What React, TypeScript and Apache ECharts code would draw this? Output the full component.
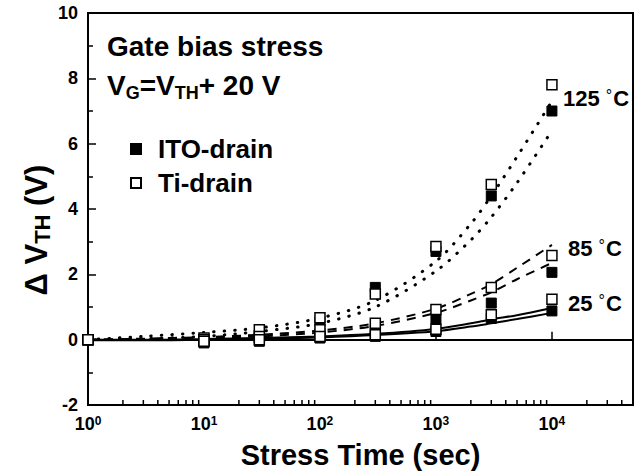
import { useEffect, useRef } from "react";
import * as echarts from "echarts";

// Measured threshold-voltage shift (V) versus stress time (s)
const STRESS_TIME = [1, 10, 30, 100, 300, 1000, 3000, 10000];
const ITO_125C = [0, 0.0, 0.15, 0.55, 1.6, 2.7, 4.4, 7.0];
const TI_125C = [0, 0.05, 0.3, 0.67, 1.4, 2.85, 4.75, 7.8];
const ITO_85C = [0, -0.05, 0.05, 0.2, 0.3, 0.63, 1.12, 2.06];
const TI_85C = [0, 0.0, 0.1, 0.3, 0.5, 0.92, 1.6, 2.58];
const ITO_25C = [0, -0.1, -0.05, 0.05, 0.1, 0.25, 0.65, 0.88];
const TI_25C = [0, -0.05, 0.0, 0.1, 0.15, 0.32, 0.76, 1.24];

// Fitted trend curves
const FIT_TIME = [1, 3, 10, 30, 100, 300, 1000, 2000, 3000, 5000, 10000];
const FIT_TI_125C = [0, 0.1, 0.22, 0.36, 0.66, 1.2, 2.4, 3.55, 4.4, 5.6, 7.3];
const FIT_ITO_125C = [0, 0.03, 0.1, 0.25, 0.5, 1.0, 2.1, 3.05, 3.75, 4.8, 6.4];
const FIT_TI_85C = [0, 0.03, 0.08, 0.15, 0.28, 0.5, 0.95, 1.4, 1.7, 2.2, 2.9];
const FIT_ITO_85C = [0, 0.02, 0.05, 0.1, 0.22, 0.42, 0.82, 1.2, 1.45, 1.85, 2.35];
const FIT_TI_25C = [0, 0, 0.02, 0.05, 0.1, 0.18, 0.33, 0.5, 0.62, 0.75, 0.97];
const FIT_ITO_25C = [-0.02, -0.02, 0, 0.02, 0.07, 0.14, 0.26, 0.4, 0.5, 0.63, 0.82];

const TEMP_LABELS = ["125", "85", "25"];

const X_MIN = 1;
const X_MAX = 50000;
const Y_MIN = -2;
const Y_MAX = 10;

const FONT = '"Liberation Sans", Arial, Helvetica, sans-serif';

const pairs = (xs: number[], ys: number[]) => xs.map((x, i) => [x, ys[i]]);

// minor log ticks (2..9 x 10^k) along the time axis
const X_MINOR_TICKS: number[] = [];
for (let d = 1; d < X_MAX; d *= 10) {
  for (let m = 2; m <= 9; m++) {
    if (m * d < X_MAX) X_MINOR_TICKS.push(m * d);
  }
}

export default function App() {
  const ref = useRef<HTMLDivElement>(null);

  useEffect(() => {
    document.body.style.margin = "0";
    if (!ref.current) return;
    const chart = echarts.init(ref.current, undefined, { renderer: "svg" });

    const fitLine = (data: number[][], type: any, width: number, cap: string = "butt") => ({
      type: "line",
      data,
      showSymbol: false,
      symbol: "none",
      smooth: 0.3,
      silent: true,
      z: 1,
      lineStyle: { color: "#000", width, type, cap },
    });

    const tempLabel = (t: string, x: number, y: number) => ({
      type: "text",
      left: x,
      top: y,
      style: {
        text: `{n|${t} }{d|°}{n|C}`,
        rich: {
          n: { fontSize: 22, fontWeight: "bold", fontFamily: FONT, fill: "#000" },
          d: { fontSize: 16, fontFamily: FONT, fill: "#000", padding: [0, 1, 5, 0] },
        },
      },
    });

    chart.setOption({
      animation: false,
      backgroundColor: "#fff",
      textStyle: { fontFamily: FONT },
      grid: {
        left: 88,
        right: 11,
        top: 13,
        bottom: 65,
        show: true,
        borderColor: "#000",
        borderWidth: 2,
      },
      legend: {
        data: ["ITO-drain", "Ti-drain"],
        orient: "vertical",
        left: 130,
        top: 136,
        padding: 0,
        itemWidth: 10,
        itemHeight: 10,
        itemGap: 8,
        selectedMode: false,
        textStyle: {
          fontSize: 26,
          fontWeight: "bold",
          fontFamily: FONT,
          color: "#000",
          lineHeight: 26,
          padding: [0, 0, 0, 12],
        },
      },
      xAxis: {
        type: "log",
        logBase: 10,
        min: X_MIN,
        max: X_MAX,
        splitNumber: 5,
        name: "Stress Time (sec)",
        nameLocation: "middle",
        nameGap: 35,
        nameTextStyle: { fontSize: 29, fontWeight: "bold", fontFamily: FONT, color: "#000" },
        axisLine: { lineStyle: { color: "#000", width: 2 } },
        axisTick: { inside: true, length: 8, lineStyle: { color: "#000", width: 1.5 } },
        splitLine: { show: false },
        axisLabel: {
          margin: 10,
          formatter: (v: number) => {
            const e = Math.round(Math.log10(v));
            if (Math.abs(v - Math.pow(10, e)) > 1e-6 * v) return "";
            return `{b|10}{s|${e}}`;
          },
          rich: {
            b: { fontSize: 18, fontWeight: "bold", fontFamily: FONT, color: "#000" },
            s: { fontSize: 12, fontWeight: "bold", fontFamily: FONT, color: "#000", verticalAlign: "top", padding: [0, 0, 3, 0] },
          },
        },
      },
      yAxis: {
        type: "value",
        min: Y_MIN,
        max: Y_MAX,
        interval: 2,
        axisLine: { show: true, lineStyle: { color: "#000", width: 2 } },
        axisTick: { inside: true, length: 8, lineStyle: { color: "#000", width: 1.5 } },
        minorTick: { show: true, splitNumber: 2, length: 5, lineStyle: { color: "#000", width: 1.5 } },
        splitLine: { show: false },
        axisLabel: {
          margin: 10,
          fontSize: 18,
          fontWeight: "bold",
          fontFamily: FONT,
          color: "#000",
        },
      },
      graphic: [
        {
          type: "text",
          left: 107,
          top: 32,
          style: {
            text: "Gate bias stress",
            fontSize: 28,
            fontWeight: "bold",
            fontFamily: FONT,
            fill: "#000",
          },
        },
        {
          type: "text",
          left: 107,
          top: 71,
          style: {
            text: "{m|V}{s|G}{m|=V}{s|TH}{m|+ 20 V}",
            rich: {
              m: { fontSize: 28, fontWeight: "bold", fontFamily: FONT, fill: "#000" },
              s: { fontSize: 18, fontWeight: "bold", fontFamily: FONT, fill: "#000", padding: [15, 0, 0, 0] },
            },
          },
        },
        {
          type: "text",
          x: 36,
          y: 230,
          rotation: Math.PI / 2,
          style: {
            text: "{m|Δ V}{s|TH}{m| (V)}",
            align: "center",
            verticalAlign: "middle",
            rich: {
              m: { fontSize: 31, fontWeight: "bold", fontFamily: FONT, fill: "#000" },
              s: { fontSize: 22, fontWeight: "bold", fontFamily: FONT, fill: "#000", padding: [12, 0, 0, 0] },
            },
          },
        },
        tempLabel(TEMP_LABELS[0], 563, 87),
        tempLabel(TEMP_LABELS[1], 568, 237),
        tempLabel(TEMP_LABELS[2], 568, 292),
      ],
      series: [
        fitLine(pairs(FIT_TIME, FIT_TI_125C), [0.5, 10], 3, "round"),
        fitLine(pairs(FIT_TIME, FIT_ITO_125C), [0.5, 10], 3, "round"),
        fitLine(pairs(FIT_TIME, FIT_TI_85C), [9, 7], 2),
        fitLine(pairs(FIT_TIME, FIT_ITO_85C), [9, 7], 2),
        fitLine(pairs(FIT_TIME, FIT_TI_25C), "solid", 2),
        fitLine(pairs(FIT_TIME, FIT_ITO_25C), "solid", 2),
        {
          type: "custom",
          silent: true,
          z: 3,
          data: X_MINOR_TICKS.map((v) => [v, Y_MIN]),
          renderItem: (_params: any, api: any) => {
            const p = api.coord([api.value(0), Y_MIN]);
            return {
              type: "line",
              shape: { x1: p[0], y1: p[1], x2: p[0], y2: p[1] - 5 },
              style: { stroke: "#000", lineWidth: 1.5 },
            };
          },
        },
        {
          name: "ITO-drain",
          type: "scatter",
          symbol: "rect",
          symbolSize: 10,
          z: 4,
          itemStyle: { color: "#000", borderColor: "#000", borderWidth: 1, opacity: 1 },
          data: [
            ...pairs(STRESS_TIME, ITO_125C),
            ...pairs(STRESS_TIME, ITO_85C),
            ...pairs(STRESS_TIME, ITO_25C),
          ],
        },
        {
          name: "Ti-drain",
          type: "scatter",
          symbol: "rect",
          symbolSize: 10,
          z: 5,
          itemStyle: { color: "#fff", borderColor: "#000", borderWidth: 1.5, opacity: 1 },
          data: [
            ...pairs(STRESS_TIME, TI_125C),
            ...pairs(STRESS_TIME, TI_85C),
            ...pairs(STRESS_TIME, TI_25C),
          ],
        },
      ],
    });

    return () => chart.dispose();
  }, []);

  return <div ref={ref} style={{ width: 644, height: 474 }} />;
}
